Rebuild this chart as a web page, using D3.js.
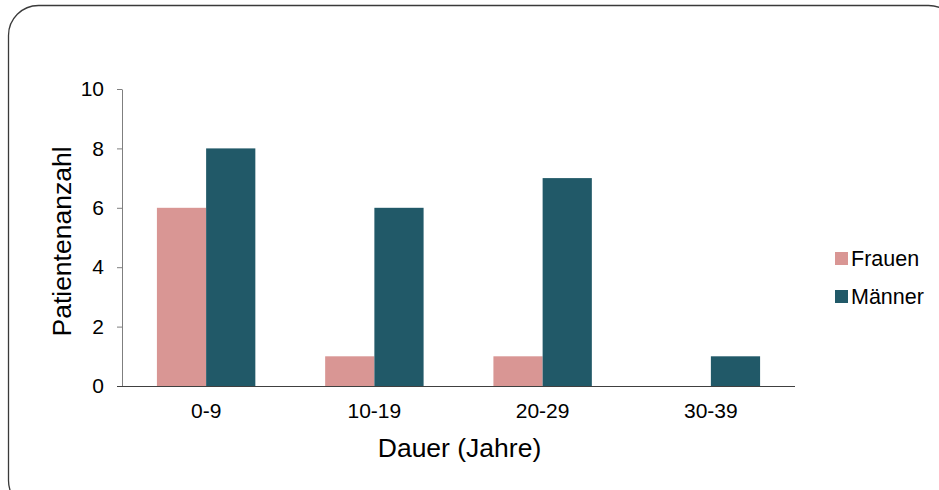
<!DOCTYPE html>
<html>
<head>
<meta charset="utf-8">
<script src="https://cdn.jsdelivr.net/npm/d3@7"></script>
<style>
  html, body { margin: 0; padding: 0; background: #fff; }
  svg { display: block; }
  text { font-family: "Liberation Sans", Arial, sans-serif; fill: #000; }
</style>
</head>
<body>
<svg id="chart" width="939" height="490"></svg>
<script>
// Erkrankungsdauer nach Geschlecht
const categories = ["0-9", "10-19", "20-29", "30-39"];
const seriesNames = ["Frauen", "Männer"];
const frauen = [6, 1, 1, 0];
const maenner = [8, 6, 7, 1];
const yTicks = [0, 2, 4, 6, 8, 10];
const colors = ["#d99694", "#215968"];

const svg = d3.select("#chart");

// rounded frame around the chart
svg.append("rect")
  .attr("x", 8.5).attr("y", 5.5)
  .attr("width", 950).attr("height", 505)
  .attr("rx", 30).attr("ry", 30)
  .attr("fill", "none")
  .attr("stroke", "#3a3a3a")
  .attr("stroke-width", 1.3);

const plot = { left: 122, right: 795, top: 89, bottom: 386 };

const x = d3.scaleBand()
  .domain(categories)
  .range([plot.left, plot.right])
  .paddingInner(0.415)
  .paddingOuter(0.2075);

const xs = d3.scaleBand()
  .domain(seriesNames)
  .range([0, x.bandwidth()]);

const y = d3.scaleLinear()
  .domain([0, 10])
  .range([plot.bottom, plot.top]);

const rows = categories.map((c, i) => ({ cat: c, values: [frauen[i], maenner[i]] }));

// bars
const groups = svg.append("g").selectAll("g")
  .data(rows).join("g")
  .attr("transform", d => `translate(${x(d.cat)},0)`);

groups.selectAll("rect")
  .data(d => d.values.map((v, k) => ({ name: seriesNames[k], v, k })))
  .join("rect")
  .filter(d => d.v > 0)
  .attr("x", d => xs(d.name))
  .attr("width", xs.bandwidth())
  .attr("y", d => y(d.v))
  .attr("height", d => y(0) - y(d.v))
  .attr("fill", d => colors[d.k]);

// y axis
const yAxis = svg.append("g")
  .attr("transform", `translate(${plot.left},0)`)
  .call(d3.axisLeft(y).tickValues(yTicks).tickSize(5).tickSizeOuter(0).tickPadding(13));
yAxis.select(".domain").attr("stroke", "#7f7f7f");
yAxis.selectAll(".tick line").attr("stroke", "#7f7f7f");
yAxis.selectAll("text").style("font-size", "21px").attr("fill", "#000")
  .style("font-family", "'Liberation Sans', Arial, sans-serif");

// x axis
const xAxis = svg.append("g")
  .attr("transform", `translate(0,${plot.bottom})`)
  .call(d3.axisBottom(x).tickSize(0).tickPadding(17));
xAxis.select(".domain")
  .attr("d", `M${plot.left - 5},0.5H${plot.right}`)
  .attr("stroke", "#404040");
xAxis.selectAll("text").style("font-size", "21px").attr("fill", "#000")
  .style("font-family", "'Liberation Sans', Arial, sans-serif");

// axis titles
svg.append("text")
  .attr("transform", `translate(71,${(plot.top + plot.bottom) / 2 + 4}) rotate(-90)`)
  .attr("text-anchor", "middle")
  .style("font-size", "26.5px")
  .text("Patientenanzahl");

svg.append("text")
  .attr("x", (plot.left + plot.right) / 2 + 1)
  .attr("y", 457)
  .attr("text-anchor", "middle")
  .style("font-size", "26.5px")
  .text("Dauer (Jahre)");

// legend
const legend = svg.append("g").attr("transform", "translate(835,252)");
const items = legend.selectAll("g").data(seriesNames).join("g")
  .attr("transform", (d, i) => `translate(0,${i * 38})`);
items.append("rect")
  .attr("width", 13).attr("height", 13)
  .attr("fill", (d, i) => colors[i]);
items.append("text")
  .attr("x", 16).attr("y", 14)
  .style("font-size", "21.5px")
  .text(d => d);
</script>
</body>
</html>
